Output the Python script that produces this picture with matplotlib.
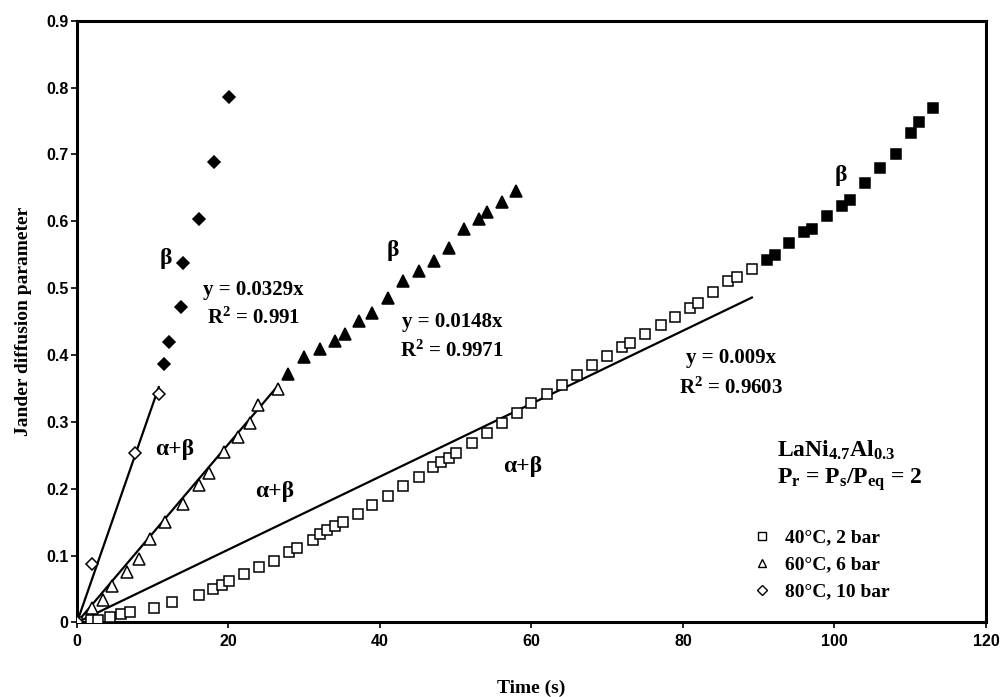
import matplotlib
matplotlib.use("Agg")
from matplotlib import pyplot as plt
from matplotlib.lines import Line2D

# 40 C, 2 bar  (open = alpha+beta region, filled = beta region)
t40_open = [0, 1.9, 2.8, 4.4, 5.8, 7.0, 10.2, 12.6, 16.1, 18.0, 19.1, 20.1,
            22.0, 24.0, 26.0, 28.0, 29.1, 31.1, 32.1, 33.0, 34.1, 35.1, 37.05, 39.0,
            41.0, 43.1, 45.1, 47.0, 48.1, 49.1, 50.0, 52.1, 54.1, 56.1, 58.05, 60.0,
            62.0, 64.0, 66.0, 68.0, 70.0, 72.0, 73.0, 75.0, 77.05, 79.0, 80.9, 82.0,
            84.0, 86.0, 87.1, 89.07]
j40_open = [0, 0.003, 0.004, 0.008, 0.012, 0.015, 0.021, 0.031, 0.041, 0.050, 0.056, 0.062,
            0.072, 0.0825, 0.092, 0.105, 0.112, 0.124, 0.132, 0.138, 0.144, 0.150, 0.162, 0.176,
            0.189, 0.204, 0.218, 0.232, 0.240, 0.246, 0.254, 0.269, 0.284, 0.298, 0.314, 0.328,
            0.342, 0.355, 0.370, 0.385, 0.399, 0.412, 0.418, 0.432, 0.445, 0.457, 0.471, 0.478,
            0.494, 0.511, 0.517, 0.528]
t40_fill = [91.05, 92.1, 94.0, 96.0, 97.1, 99.05, 101.0, 102.1, 104.0, 106.0, 108.1, 110.1, 111.1, 113.0]
j40_fill = [0.542, 0.549, 0.567, 0.584, 0.588, 0.608, 0.623, 0.632, 0.657, 0.679, 0.700, 0.732, 0.749, 0.770]

# 60 C, 6 bar
t60_open = [0, 2.0, 3.5, 4.6, 6.6, 8.2, 9.7, 11.6, 14.0, 16.1, 17.4, 19.45, 21.3, 22.8, 23.85, 26.6]
j60_open = [0, 0.021, 0.033, 0.054, 0.076, 0.095, 0.125, 0.151, 0.177, 0.206, 0.224, 0.255,
            0.278, 0.299, 0.325, 0.349]
t60_fill = [27.8, 30.0, 32.1, 34.1, 35.4, 37.2, 39.0, 41.0, 43.1, 45.1, 47.1, 49.1, 51.1,
            53.1, 54.1, 56.1, 58.0]
j60_fill = [0.372, 0.397, 0.409, 0.421, 0.431, 0.451, 0.463, 0.486, 0.510, 0.525, 0.540,
            0.560, 0.588, 0.604, 0.614, 0.629, 0.646]

# 80 C, 10 bar
t80_open = [0, 2.0, 7.6, 10.8]
j80_open = [0, 0.088, 0.254, 0.341]
t80_fill = [11.5, 12.1, 13.7, 14.0, 16.1, 18.1, 20.1]
j80_fill = [0.387, 0.419, 0.472, 0.537, 0.604, 0.689, 0.786]

# trend lines through the alpha+beta region (start, end)
fit40_x = [0, 89.1]
fit40_y = [0, 0.486]
fit60_x = [0, 26.6]
fit60_y = [0, 0.355]
fit80_x = [0, 10.8]
fit80_y = [0, 0.352]

legend_labels = ["40\u00b0C, 2 bar", "60\u00b0C, 6 bar", "80\u00b0C, 10 bar"]

serif = "Liberation Serif"
sans = "Liberation Sans"
plt.rcParams["mathtext.fontset"] = "custom"
plt.rcParams["mathtext.rm"] = "Liberation Serif:bold"
plt.rcParams["mathtext.bf"] = "Liberation Serif:bold"
plt.rcParams["mathtext.it"] = "Liberation Serif:bold"

fig = plt.figure(figsize=(10.02, 6.97), dpi=100)
ax = fig.add_axes([0.0768, 0.1069, 0.9072, 0.8634])

ms = 7
mew = 1.1
ax.plot(fit40_x, fit40_y, color="black", lw=1.6, zorder=2)
ax.plot(fit60_x, fit60_y, color="black", lw=1.6, zorder=2)
ax.plot(fit80_x, fit80_y, color="black", lw=1.6, zorder=2)

ax.plot(t40_open, j40_open, "s", ms=ms, mfc="white", mec="black", mew=mew, zorder=3)
ax.plot(t40_fill, j40_fill, "s", ms=ms, mfc="black", mec="black", mew=mew, zorder=3)
ax.plot(t60_open, j60_open, "^", ms=ms + 1, mfc="white", mec="black", mew=mew, zorder=3)
ax.plot(t60_fill, j60_fill, "^", ms=ms + 1, mfc="black", mec="black", mew=mew, zorder=3)
ax.plot(t80_open, j80_open, "D", ms=ms - 1, mfc="white", mec="black", mew=mew, zorder=3)
ax.plot(t80_fill, j80_fill, "D", ms=ms - 1, mfc="black", mec="black", mew=mew, zorder=3)

ax.set_xlim(0, 120)
ax.set_ylim(0, 0.9)
ax.set_xticks(range(0, 121, 20))
ax.set_yticks([i / 10 for i in range(10)])
ax.set_yticklabels(["0"] + [f"{i / 10:.1f}" for i in range(1, 10)])
for lab in ax.get_xticklabels() + ax.get_yticklabels():
    lab.set_fontfamily(sans)
    lab.set_fontweight("bold")
    lab.set_fontsize(11.5)
ax.tick_params(direction="out", length=4.5, width=1.2, top=False, right=False)
ax.tick_params(axis="y", pad=1.5)
ax.tick_params(axis="x", pad=4)
for sp in ax.spines.values():
    sp.set_linewidth(2.2)

ax.set_xlabel("Time (s)", fontfamily=serif, fontweight="bold", fontsize=14, labelpad=22)
ax.set_ylabel("Jander diffusion parameter", fontfamily=serif, fontweight="bold",
              fontsize=14, labelpad=10)

txt = dict(fontfamily=serif, fontweight="bold", ha="center", va="center", zorder=4)
ax.text(11.75, 0.545, "\u03b2", fontsize=17, **txt)
ax.text(41.7, 0.557, "\u03b2", fontsize=17, **txt)
ax.text(100.9, 0.669, "\u03b2", fontsize=17, **txt)
ax.text(12.9, 0.258, "\u03b1+\u03b2", fontsize=17, **txt)
ax.text(26.1, 0.196, "\u03b1+\u03b2", fontsize=17, **txt)
ax.text(58.9, 0.233, "\u03b1+\u03b2", fontsize=17, **txt)

ax.text(23.3, 0.498, "y = 0.0329x", fontsize=15, **txt)
ax.text(23.3, 0.455, r"R$^{2}$ = 0.991", fontsize=15, **txt)
ax.text(49.5, 0.450, "y = 0.0148x", fontsize=15, **txt)
ax.text(49.5, 0.405, r"R$^{2}$ = 0.9971", fontsize=15, **txt)
ax.text(86.3, 0.395, "y = 0.009x", fontsize=15, **txt)
ax.text(86.3, 0.350, r"R$^{2}$ = 0.9603", fontsize=15, **txt)

ax.text(92.4, 0.258, r"$\mathbf{LaNi_{4.7}Al_{0.3}}$", fontsize=17,
        ha="left", va="center")
ax.text(92.4, 0.213, r"$\mathbf{P_r}$ = $\mathbf{P_s/P_{eq}}$ = 2", fontsize=17,
        fontfamily=serif, fontweight="bold", ha="left", va="center")

handles = [
    Line2D([], [], ls="none", marker="s", ms=6, mfc="white", mec="black", mew=1),
    Line2D([], [], ls="none", marker="^", ms=6, mfc="white", mec="black", mew=1),
    Line2D([], [], ls="none", marker="D", ms=5, mfc="white", mec="black", mew=1),
]
leg = ax.legend(handles, legend_labels, loc="upper left", bbox_to_anchor=(0.7385, 0.165),
                prop={"family": serif, "weight": "bold", "size": 14},
                frameon=True, fancybox=False, edgecolor="none", facecolor="white",
                framealpha=1, handlelength=0.8, handletextpad=0.8, labelspacing=0.48,
                borderpad=0.3, borderaxespad=0)

fig.savefig("out.png", dpi=100)
